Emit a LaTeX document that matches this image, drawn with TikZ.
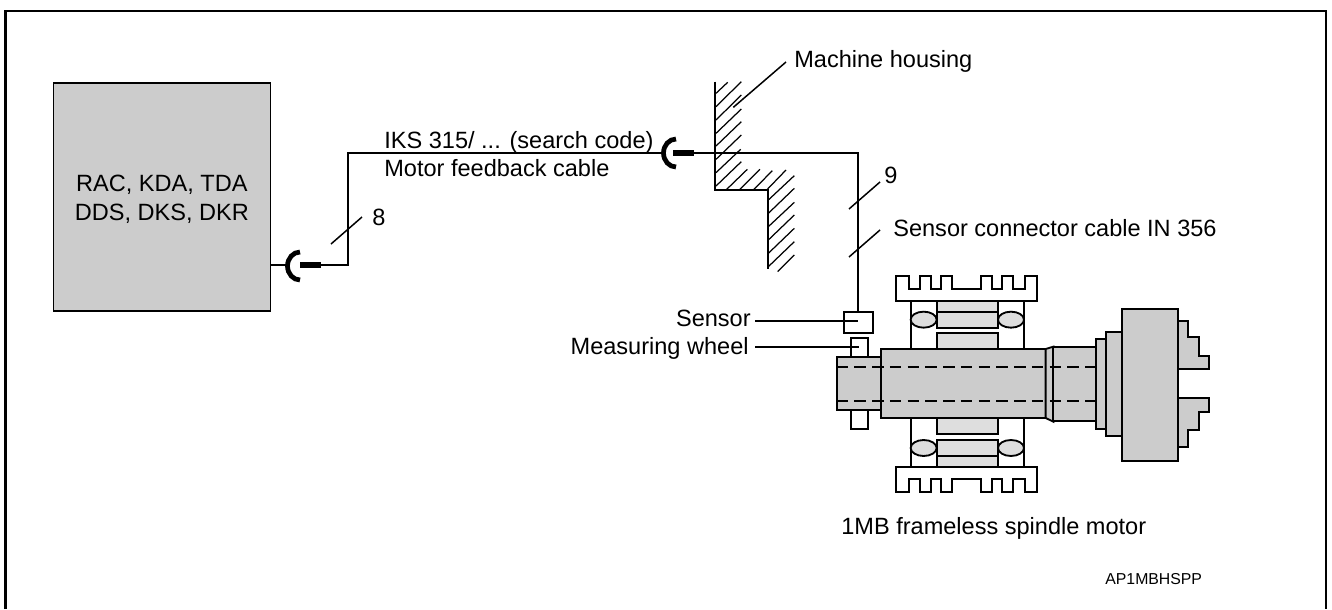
\documentclass[tikz,border=0pt]{standalone}
\usepackage{fontspec}
\setmainfont{Liberation Sans}
\begin{document}
\begin{tikzpicture}[x=0.02cm,y=-0.02cm,line join=miter,
  lbl/.style={inner sep=0pt,font=\fontsize{13.4}{15}\selectfont},
  wire/.style={line width=1.1pt,black},
  thin wire/.style={line width=0.85pt,black},
  part/.style={line width=1.05pt,draw=black,fill=black!20},
  lightpart/.style={line width=1.05pt,draw=black,fill=black!13},
  plainpart/.style={line width=1.05pt,draw=black,fill=white},
  hatch/.style={line width=0.7pt,black},
  zoomed/.style={shift={(780,250)},x=0.02cm/3,y=-0.02cm/3},
  zoomtwo/.style={shift={(640,60)},x=0.02cm/3,y=-0.02cm/3}]
\useasboundingbox (0,0) rectangle (1332,609);
\draw[line width=1.5pt] (5.5,609) -- (5.5,11) -- (1326,11) -- (1326,609);
% control unit
\node[draw=black,line width=1pt,fill=black!20,minimum width=217*0.02cm,minimum height=228*0.02cm,inner sep=0pt,anchor=north west,align=center,lbl,font=\fontsize{13.4}{16.4}\selectfont] (unit) at (52.5,82) {\rule{0pt}{12pt}RAC, KDA, TDA\\DDS, DKS, DKR};
% coordinates of cable
\coordinate (u1) at (unit.east|-0,265);
\coordinate (c1) at (287,265);
\coordinate (b1a) at (300,265);
\coordinate (b1b) at (321,265);
\coordinate (k1) at (348,265);
\coordinate (k2) at (348,153);
\coordinate (c2) at (662,153);
\coordinate (b2a) at (673,153);
\coordinate (b2b) at (694,153);
\coordinate (k3) at (858,153);
\coordinate (k4) at (858,311);
\draw[wire] (u1) -- (c1);
\draw[line width=2.7pt,line cap=butt] (300,252) arc[start angle=270,end angle=90,x radius=12.5,y radius=14];
\draw[line width=3.2pt] (b1a) -- (b1b);
\draw[wire] (b1b) -- (k1) -- (k2) -- (c2);
\draw[line width=2.7pt,line cap=butt] (676,139) arc[start angle=270,end angle=90,x radius=12.5,y radius=14];
\draw[line width=3.2pt] (b2a) -- (b2b);
\draw[wire] (b2b) -- (k3) -- (k4);
% cable marks
\coordinate (s8a) at (331,244); \coordinate (s8b) at (362,217);
\coordinate (s9a) at (849,209); \coordinate (s9b) at (880,182);
\coordinate (s10a) at (849,257); \coordinate (s10b) at (880,230);
\draw[thin wire] (s8a) -- (s8b);
\draw[thin wire] (s9a) -- (s9b);
\draw[thin wire] (s10a) -- (s10b);
% labels
\node[lbl,anchor=west] (n8) at (372,217) {8};
\node[lbl,anchor=west] (n9) at (884,175) {9};
\node[lbl,anchor=west] (iks) at (384,142) {IKS 315/ ... (search code)};
\node[lbl,anchor=west] (mfc) at (384,168) {Motor feedback cable};
\node[lbl,anchor=west] (mh) at (794,61) {Machine housing};
\node[lbl,anchor=west] (scc) at (893,228) {Sensor connector cable IN 356};
\node[lbl,anchor=east] (sen) at (751,318.5) {Sensor};
\node[lbl,anchor=east] (mw) at (749,348.5) {Measuring wheel};
\node[lbl,anchor=west] (sm) at (841,528) {1MB frameless spindle motor};
\node[inner sep=0pt,anchor=west,font=\fontsize{9}{11}\selectfont] (ap) at (1105,579) {AP1MBHSPP};
\coordinate (mhq) at (786,62);
\coordinate (senq) at (755,321);
\coordinate (mwq) at (755,347);
% housing
\begin{scope}[zoomtwo]
\draw[wire] (225,65) -- (225,390) -- (383,390) -- (383,627);
\foreach \a/\b/\c/\d in {228/100/263/67,228/140/304/65,228/180/304/105,228/220/304/147,228/258/304/185,228/298/304/225,228/338/302/268,228/378/304/305,258/390/322/328,298/390/360/328,340/390/397/332,380/390/438/330,385/420/463/347,385/460/463/385,385/500/463/427,385/540/463/465,385/580/463/505,385/620/463/545,413/635/463/585}
  \draw[hatch] (\a,\b) -- (\c,\d);
\coordinate (mhp) at (280,142);
\end{scope}
\draw[thin wire] (mhp) -- (mhq);
% motor
\begin{scope}[zoomed]
\coordinate (sp) at (235,212);
\coordinate (wp) at (237,293);
% stator verticals
\draw[wire] (392,153) -- (392,297) (733,153) -- (733,297) (392,505) -- (392,650) (733,505) -- (733,650);
% fins
\draw[plainpart] (348,153) -- (348,78) -- (388,78) -- (388,117) -- (420,117) -- (420,78) -- (452,78) -- (452,117) -- (484,117) -- (484,78) -- (517,78) -- (517,117) -- (603,117) -- (603,78) -- (635,78) -- (635,117) -- (665,117) -- (665,78) -- (700,78) -- (700,117) -- (735,117) -- (735,78) -- (770,78) -- (770,153) -- cycle;
\draw[plainpart] (348,650) -- (348,725) -- (388,725) -- (388,686) -- (420,686) -- (420,725) -- (452,725) -- (452,686) -- (484,686) -- (484,725) -- (517,725) -- (517,686) -- (603,686) -- (603,725) -- (635,725) -- (635,686) -- (665,686) -- (665,725) -- (700,725) -- (700,686) -- (735,686) -- (735,725) -- (770,725) -- (770,650) -- cycle;
% rotor / stator blocks
\draw[lightpart] (471,153) rectangle (654,185);
\draw[lightpart] (471,185) rectangle (654,233);
\draw[lightpart] (471,249) rectangle (654,297);
\draw[lightpart] (471,505) rectangle (654,553);
\draw[lightpart] (471,570) rectangle (654,618);
\draw[lightpart] (471,618) rectangle (654,650);
% bearings
\foreach \cx/\cy in {431/209,693/209,431/594,693/594}
  \draw[lightpart] (\cx,\cy) ellipse[x radius=39,y radius=24];
% sensor and wheel
\draw[plainpart] (192,185) rectangle (280,248);
\draw[plainpart] (213,265) rectangle (263,322);
\draw[plainpart] (213,480) rectangle (263,537);
% shaft
\draw[part] (170,322) rectangle (304,481);
\draw[part] (304,297) rectangle (797,504);
\draw[part] (797,297) -- (820,290) -- (820,515) -- (797,504) -- cycle;
\draw[part] (820,290) rectangle (947,513);
\draw[part] (947,266) rectangle (978,538);
\draw[part] (978,246) rectangle (1026,558);
\draw[part] (1193,213) -- (1225,213) -- (1225,262) -- (1257,262) -- (1257,318) -- (1288,318) -- (1288,358) -- (1193,358) -- cycle;
\draw[part] (1193,445) -- (1288,445) -- (1288,485) -- (1257,485) -- (1257,541) -- (1225,541) -- (1225,590) -- (1193,590) -- cycle;
\draw[part] (1026,176) rectangle (1193,632);
\draw[line width=1.05pt,dash pattern=on 6.5pt off 3.6pt] (170,351) -- (947,351);
\draw[line width=1.05pt,dash pattern=on 6.5pt off 3.6pt] (170,453) -- (947,453);
\end{scope}
\draw[wire] (senq) -- (senq-|sp);
\draw[wire] (mwq) -- (mwq-|wp);
\end{tikzpicture}
\end{document}
